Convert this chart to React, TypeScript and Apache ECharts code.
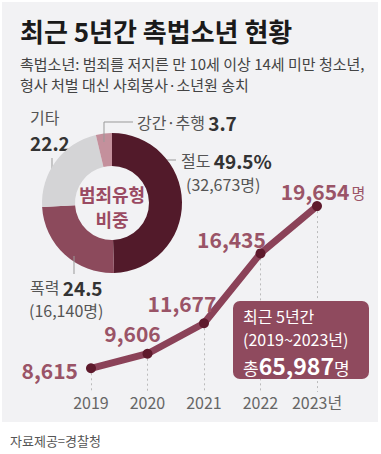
import React, { useEffect, useRef } from "react";
import * as echarts from "echarts";

const years = ["2019", "2020", "2021", "2022", "2023"];
const counts = [8615, 9606, 11677, 16435, 19654];
const crimeTypes = ["절도", "폭력", "기타", "강간·추행"];
const crimeShares = [49.5, 24.5, 22.2, 3.7];
const crimeCounts = [32673, 16140, null, null];
const totalCount = 65987;

const FONT = "'Noto Sans CJK KR', 'Noto Sans', sans-serif";
const fmt = (n: number) => n.toLocaleString("en-US");

const labelOffsets: [number, number][] = [
  [0, 0],
  [-15, -3],
  [-22, -3],
  [-29, 3],
  [6, 2],
];

export default function App() {
  const ref = useRef<HTMLDivElement>(null);
  useEffect(() => {
    if (!ref.current) return;
    const chart = echarts.init(ref.current, null, { renderer: "svg" });
    const yMin = 7000;
    const lineData = counts.map((v, i) => {
      const isFirst = i === 0;
      const isLast = i === counts.length - 1;
      return {
        value: v,
        label: {
          show: true,
          position: isFirst ? "left" : "top",
          distance: isFirst ? 8 : 2,
          offset: isFirst ? [0, 2] : labelOffsets[i],
          formatter: isLast ? `{v|${fmt(v)}}{u|명}` : `{v|${fmt(v)}}`,
          rich: {
            v: { fontFamily: FONT, fontSize: 21, fontWeight: "bold", color: "#9a5467", lineHeight: 21 },
            u: { fontFamily: FONT, fontSize: 15, color: "#9a5467", padding: [4, 0, 0, 2], lineHeight: 15 },
          },
        },
      };
    });

    const cx = 112;
    const cy = 203;
    const labelColor = "#555";
    const boldColor = "#333";
    const leader = { stroke: "#999", lineWidth: 1 };

    chart.setOption({
      animation: false,
      backgroundColor: "#ffffff",
      grid: { left: 91, right: 64, top: 201, bottom: 62 },
      xAxis: {
        type: "category",
        data: years,
        boundaryGap: false,
        axisLine: { show: false },
        axisTick: { show: false },
        splitLine: { show: false },
        axisLabel: {
          interval: 0,
          margin: 2,
          fontFamily: FONT,
          fontSize: 16,
          color: "#666",
          formatter: (v: string, i: number) => (i === years.length - 1 ? v + "년" : v),
        },
      },
      yAxis: { type: "value", min: yMin, max: 20000, show: false, splitLine: { show: false } },
      graphic: [
        { type: "rect", z: -10, shape: { x: 2, y: 2, width: 376, height: 420 }, style: { fill: "#f2f2f4" } },
        { type: "text", x: 20, y: 30, style: { text: "최근 5년간 촉법소년 현황", font: `bold 26px ${FONT}`, fill: "#1a1a1a", verticalAlign: "middle" } },
        { type: "text", x: 20, y: 63, style: { text: "촉법소년: 범죄를 저지른 만 10세 이상 14세 미만 청소년,", font: `15px ${FONT}`, fill: "#444", verticalAlign: "middle", lineHeight: 15 } },
        { type: "text", x: 20, y: 84, style: { text: "형사 처벌 대신 사회봉사·소년원 송치", font: `15px ${FONT}`, fill: "#444", verticalAlign: "middle", lineHeight: 15 } },
        { type: "text", x: cx, y: 194, style: { text: "범죄유형", font: `bold 18px ${FONT}`, fill: "#9a4a62", align: "center", verticalAlign: "middle", lineHeight: 18 } },
        { type: "text", x: cx, y: 219, style: { text: "비중", font: `bold 18px ${FONT}`, fill: "#9a4a62", align: "center", verticalAlign: "middle", lineHeight: 18 } },
        { type: "text", x: 30, y: 117, style: { text: crimeTypes[2], font: `16px ${FONT}`, fill: labelColor, verticalAlign: "middle", lineHeight: 16 } },
        { type: "text", x: 30, y: 142, style: { text: String(crimeShares[2]), font: `bold 19px ${FONT}`, fill: boldColor, verticalAlign: "middle", lineHeight: 19 } },
        { type: "line", shape: { x1: 52, y1: 158, x2: 52, y2: 175 }, style: leader },
        { type: "polyline", z: 10, shape: { points: [[104, 142], [104, 122], [133, 122]] }, style: { ...leader, fill: "none" } },
        {
          type: "text", x: 137, y: 122,
          style: {
            text: `{a|${crimeTypes[3]}} {b|${crimeShares[3]}}`, verticalAlign: "middle",
            rich: {
              a: { font: `16px ${FONT}`, fill: labelColor, lineHeight: 16 },
              b: { font: `bold 19px ${FONT}`, fill: boldColor, lineHeight: 18 },
            },
          },
        },
        { type: "line", shape: { x1: 161, y1: 160, x2: 176, y2: 160 }, style: leader },
        {
          type: "text", x: 181, y: 160,
          style: {
            text: `{a|${crimeTypes[0]}} {b|${crimeShares[0]}%}`, verticalAlign: "middle",
            rich: {
              a: { font: `16px ${FONT}`, fill: labelColor, lineHeight: 16 },
              b: { font: `bold 19px ${FONT}`, fill: boldColor, lineHeight: 18 },
            },
          },
        },
        { type: "text", x: 186, y: 184, style: { text: `(${fmt(crimeCounts[0] as number)}명)`, font: `16px ${FONT}`, fill: labelColor, verticalAlign: "middle", lineHeight: 16 } },
        { type: "line", z: 10, shape: { x1: 74, y1: 256, x2: 74, y2: 274 }, style: leader },
        {
          type: "text", x: 30, y: 287,
          style: {
            text: `{a|${crimeTypes[1]}} {b|${crimeShares[1]}}`, verticalAlign: "middle",
            rich: {
              a: { font: `16px ${FONT}`, fill: labelColor, lineHeight: 16 },
              b: { font: `bold 19px ${FONT}`, fill: boldColor, lineHeight: 18 },
            },
          },
        },
        { type: "text", x: 29, y: 310, style: { text: `(${fmt(crimeCounts[1] as number)}명)`, font: `16px ${FONT}`, fill: labelColor, verticalAlign: "middle", lineHeight: 16 } },
        { type: "rect", z: 20, shape: { x: 233, y: 301, width: 136, height: 78, r: 7 }, style: { fill: "#8f4a5e" } },
        { type: "text", z: 21, x: 243, y: 316, style: { text: "최근 5년간", font: `16px ${FONT}`, fill: "#fff", verticalAlign: "middle", lineHeight: 16 } },
        { type: "text", z: 21, x: 243, y: 339, style: { text: `(${years[0]}~${years[years.length - 1]}년)`, font: `16px ${FONT}`, fill: "#fff", verticalAlign: "middle", lineHeight: 16 } },
        {
          type: "text", z: 21, x: 243, y: 365,
          style: {
            text: `{a|총}{b|${fmt(totalCount)}}{a|명}`, verticalAlign: "middle",
            rich: {
              a: { font: `17px ${FONT}`, fill: "#fff", padding: [4, 0, 0, 0], lineHeight: 17 },
              b: { font: `bold 23px ${FONT}`, fill: "#fff", lineHeight: 21 },
            },
          },
        },
        { type: "text", x: 10, y: 440, style: { text: "자료제공=경찰청", font: `13px ${FONT}`, fill: "#555", verticalAlign: "middle" } },
      ],
      series: [
        {
          type: "pie",
          center: [cx, cy],
          radius: [37, 70],
          startAngle: 90,
          clockwise: true,
          label: { show: false },
          labelLine: { show: false },
          silent: true,
          data: crimeTypes.map((n, i) => ({ name: n, value: crimeShares[i] })),
          color: ["#521a2a", "#8c4a5c", "#d4d4d6", "#c4909c"],
        },
        {
          type: "line",
          data: lineData,
          symbol: "circle",
          symbolSize: 10,
          lineStyle: { width: 7, color: "#8b4258", cap: "round" },
          itemStyle: { color: "#5e1a2c" },
          z: 5,
          markLine: {
            silent: true,
            symbol: "none",
            label: { show: false },
            lineStyle: { type: [2, 3], color: "#bbb", width: 1 },
            data: counts.map((v, i) => [
              { coord: [i, v] },
              { coord: [i, yMin] },
            ]),
          },
        },
      ],
    });
    return () => chart.dispose();
  }, []);
  return (
    <div
      ref={ref}
      style={{ position: "fixed", left: 0, top: 0, width: 381, height: 454 }}
    />
  );
}
